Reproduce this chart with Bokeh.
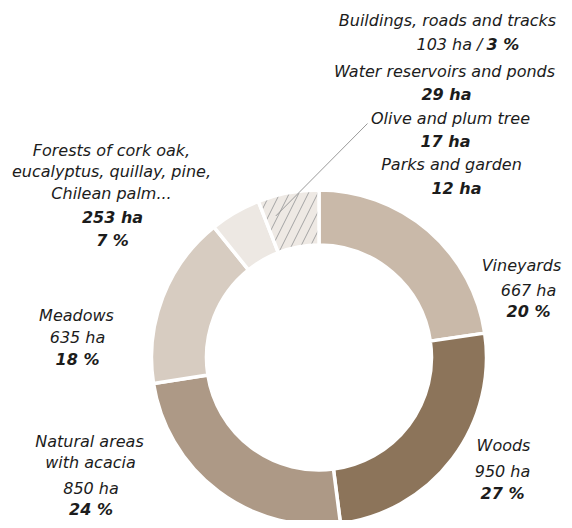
import math
from bokeh.plotting import figure
from bokeh.models import Range1d, ColumnDataSource
from bokeh.core.properties import value
from bokeh.embed import file_html
from bokeh.resources import INLINE

# ---- data ----
segments = ["Vineyards", "Woods", "Natural areas with acacia", "Meadows",
            "Forests", "Buildings, water, olive, parks"]
drawn_share = [22.7, 25.3, 24.6, 16.7, 4.9, 5.9]   # share of the ring as drawn (%)
seg_colors = ["#c9b9a9", "#8c745a", "#ad9986", "#d7ccc1", "#ede8e3", "#eee9e4"]
seg_hatch = ["", "", "", "", "", "right_diagonal_line"]

hectares = {"Vineyards": "667 ha", "Woods": "950 ha", "Natural": "850 ha",
            "Meadows": "635 ha", "Forests": "253 ha", "Buildings": "103 ha /",
            "Water": "29 ha", "Olive": "17 ha", "Parks": "12 ha"}
percents = {"Vineyards": "20 %", "Woods": "27 %", "Natural": "24 %",
            "Meadows": "18 %", "Forests": "7 %", "Buildings": "3 %"}

W, H = 564, 520
p = figure(width=W, height=H, x_range=Range1d(0, W), y_range=Range1d(0, H),
           output_backend="svg", toolbar_location=None, min_border=0,
           x_axis_type=None, y_axis_type=None)
p.grid.visible = False
p.outline_line_color = None
p.background_fill_color = "white"

def X(sx):
    return sx

def Y(sy):
    return H - sy

TEXT_SHIFT = 7  # compensate rendered baseline offset

cx, cy = X(318.5), Y(357)
r_in, r_out = 112.5, 167.5

total = sum(drawn_share)
starts, ends = [], []
acc = 0.0
for v in drawn_share:
    starts.append(math.pi / 2 - acc / total * 2 * math.pi)
    acc += v
    ends.append(math.pi / 2 - acc / total * 2 * math.pi)

for i in range(len(segments)):
    kw = {}
    if seg_hatch[i]:
        kw = dict(hatch_pattern=seg_hatch[i], hatch_color="#a3a3a3",
                  hatch_scale=19, hatch_weight=1)
    p.annular_wedge(x=cx, y=cy, inner_radius=r_in, outer_radius=r_out,
                    start_angle=starts[i], end_angle=ends[i], direction="clock",
                    fill_color=seg_colors[i], line_color="white", line_width=3.5, **kw)

# leader line from "Olive and plum tree" into the hatched segment
ang = starts[5] + (ends[5] - starts[5]) * 0.2
p.line(x=[X(367), cx + 148 * math.cos(ang)], y=[Y(123), cy + 148 * math.sin(ang)],
       line_color="#9a9a9a", line_width=1)

# ---- labels: (text, screen x, screen baseline y, bold, align) ----
rows = [
    ("Buildings, roads and tracks", 447, 27, False, "center"),
    (hectares["Buildings"], 482, 51, False, "right"),
    (percents["Buildings"], 486, 51, True, "left"),
    ("Water reservoirs and ponds", 444, 78, False, "center"),
    (hectares["Water"], 446, 101, True, "center"),
    ("Olive and plum tree", 450, 125, False, "center"),
    (hectares["Olive"], 445, 148, True, "center"),
    ("Parks and garden", 451, 171, False, "center"),
    (hectares["Parks"], 456, 195, True, "center"),
    ("Forests of cork oak,", 111, 157, False, "center"),
    ("eucalyptus, quillay, pine,", 111, 178, False, "center"),
    ("Chilean palm...", 111, 200, False, "center"),
    (hectares["Forests"], 112, 224, True, "center"),
    (percents["Forests"], 112, 247, True, "center"),
    ("Meadows", 76, 322, False, "center"),
    (hectares["Meadows"], 77, 344, False, "center"),
    (percents["Meadows"], 77, 366, True, "center"),
    ("Natural areas", 89, 448, False, "center"),
    ("with acacia", 90, 469, False, "center"),
    (hectares["Natural"], 90.5, 495, False, "center"),
    (percents["Natural"], 90.5, 516, True, "center"),
    ("Vineyards", 521, 272, False, "center"),
    (hectares["Vineyards"], 528, 297, False, "center"),
    (percents["Vineyards"], 528, 318, True, "center"),
    ("Woods", 503, 452, False, "center"),
    (hectares["Woods"], 502, 478, False, "center"),
    (percents["Woods"], 502, 500, True, "center"),
]

groups = {}
for t, sx, sy, bold, align in rows:
    groups.setdefault((bold, align), []).append((t, sx, sy))

for (bold, align), items in groups.items():
    src = ColumnDataSource(dict(x=[X(a[1]) for a in items],
                                y=[Y(a[2] - TEXT_SHIFT) for a in items],
                                text=[a[0] for a in items]))
    p.text(x="x", y="y", text="text", source=src,
           text_font=value("DejaVu Sans"),
           text_font_style="bold italic" if bold else "italic",
           text_font_size="16px", text_align=align, text_baseline="alphabetic",
           text_color="#1c1c1c")

open("out.html", "w").write(file_html(p, INLINE))
